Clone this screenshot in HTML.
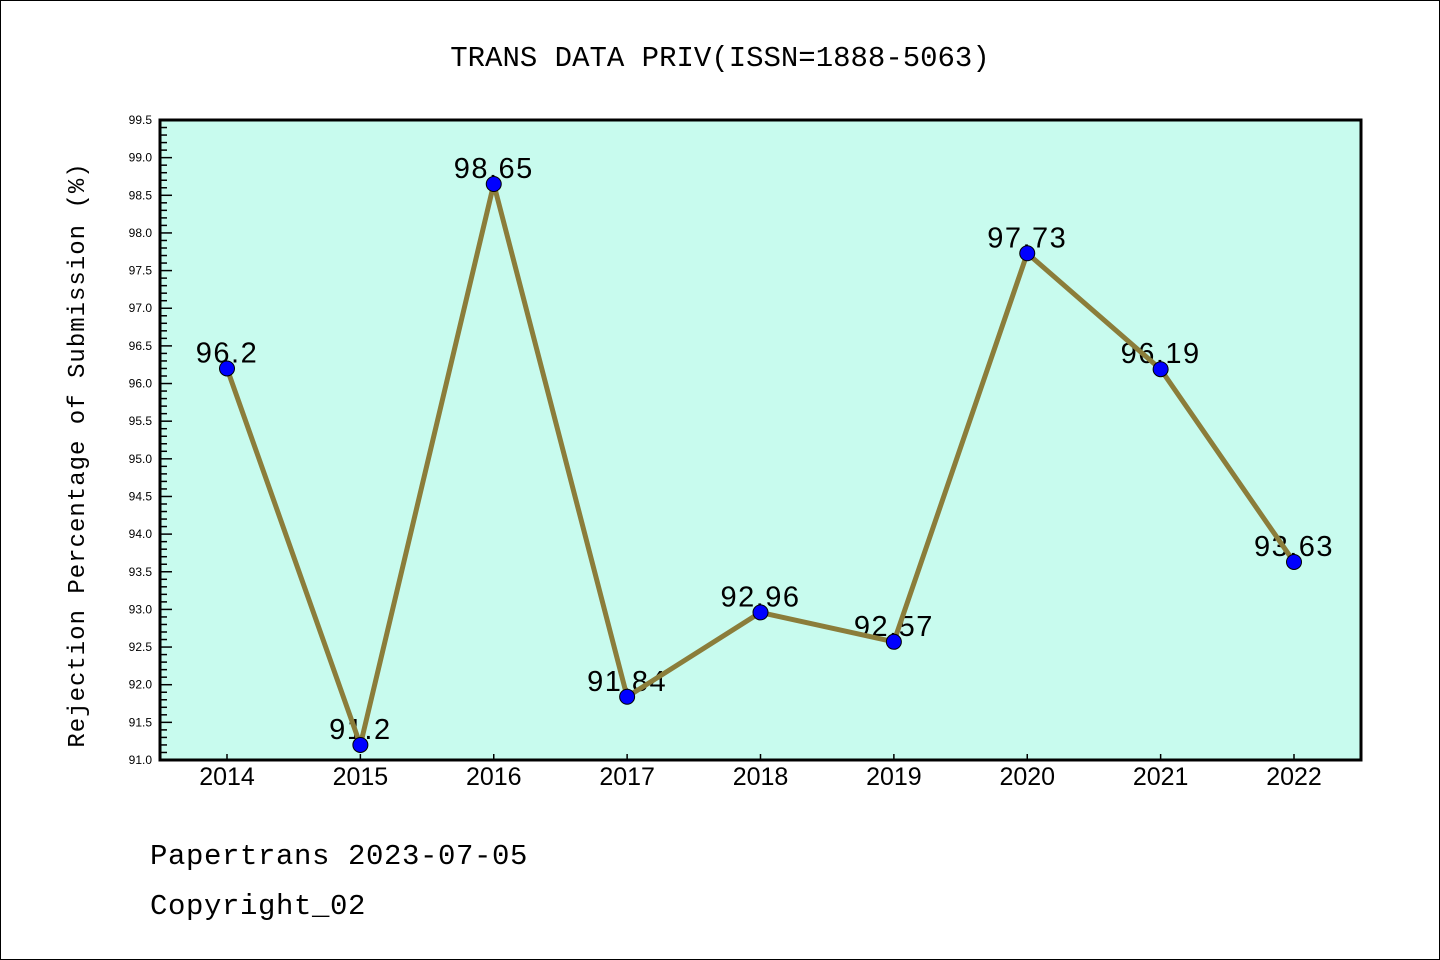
<!DOCTYPE html>
<html><head><meta charset="utf-8"><style>
html,body{margin:0;padding:0;background:#fff}
svg{display:block}
text{font-family:"Liberation Sans","DejaVu Sans",sans-serif}
.mono{font-family:"Liberation Mono","DejaVu Sans Mono",monospace}
</style></head><body>
<svg id="chart" width="1440" height="960" viewBox="0 0 1440 960" xmlns="http://www.w3.org/2000/svg">
<rect x="0.5" y="0.5" width="1439" height="959" fill="#fff" stroke="#000" stroke-width="1"/>
<text class="mono" x="720" y="66" font-size="29" text-anchor="middle">TRANS DATA PRIV(ISSN=1888-5063)</text>
<rect x="160" y="120" width="1201" height="640" fill="#c8fbee"/>
<g id="ticks"></g>
<g id="labels"></g>
<g id="series"></g>
<rect x="160" y="120" width="1201" height="640" fill="none" stroke="#000" stroke-width="3"/>
<text class="mono" transform="translate(84,455) rotate(-90)" font-size="24" letter-spacing="1" text-anchor="middle">Rejection Percentage of Submission (%)</text>
<text class="mono" x="150" y="864" font-size="29" letter-spacing="0.6">Papertrans 2023-07-05</text>
<text class="mono" x="150" y="914" font-size="29" letter-spacing="0.6">Copyright_02</text>
</svg>
<script>
const years = ["2014","2015","2016","2017","2018","2019","2020","2021","2022"];
const rates = [96.2, 91.2, 98.65, 91.84, 92.96, 92.57, 97.73, 96.19, 93.63];
const rateLabels = ["96.2","91.2","98.65","91.84","92.96","92.57","97.73","96.19","93.63"];
const yMin = 91.0, yMax = 99.5;
const NS = "http://www.w3.org/2000/svg";
const L=160,R=1361,T=120,B=760;
const xStep=(1294-227)/(years.length-1);
function xs(i){return 227+i*xStep;}
function ys(v){return B-(v-yMin)/(yMax-yMin)*(B-T);}
function mk(tag,attrs,parent){const e=document.createElementNS(NS,tag);for(const k in attrs)e.setAttribute(k,attrs[k]);parent.appendChild(e);return e;}
const tg=document.getElementById('ticks'),lg=document.getElementById('labels'),sg=document.getElementById('series');
const nMinor=Math.round((yMax-yMin)*10);
for(let k=0;k<=nMinor;k++){
  const v=yMin+k*0.1,y=ys(v),major=k%5===0;
  const t=mk('line',{x1:L,x2:L+(major?12:7),y1:y,y2:y,stroke:'#000','stroke-width':1.5},tg);
  
  
  if(major){
    const tx=mk('text',{x:L-8,y:y+4,'font-size':12,'text-anchor':'end'},tg);
    tx.textContent=v.toFixed(1);
    
    
  }
}
years.forEach((yr,i)=>{
  const x=xs(i);
  const t=mk('line',{x1:x,x2:x,y1:B,y2:B-6,stroke:'#000','stroke-width':1.5},tg);
  
  
  const tx=mk('text',{x:x,y:B+25,'font-size':25,'text-anchor':'middle'},tg);
  tx.textContent=yr;
  
  
});
rates.forEach((v,i)=>{
  const tx=mk('text',{x:xs(i),y:ys(v)-6,'font-size':29,'letter-spacing':1.5,'text-anchor':'middle'},lg);
  tx.textContent=rateLabels[i];
  
  
});
const pl=mk('polyline',{points:rates.map((v,i)=>xs(i)+','+ys(v)).join(' '),fill:'none',stroke:'#8b7d3a','stroke-width':5,'stroke-linejoin':'round'},sg);


rates.forEach((v,i)=>{
  const c=mk('circle',{cx:xs(i),cy:ys(v),r:7.5,fill:'#0000ff',stroke:'#000','stroke-width':1},sg);
  
  
});
</script>
</body></html>
